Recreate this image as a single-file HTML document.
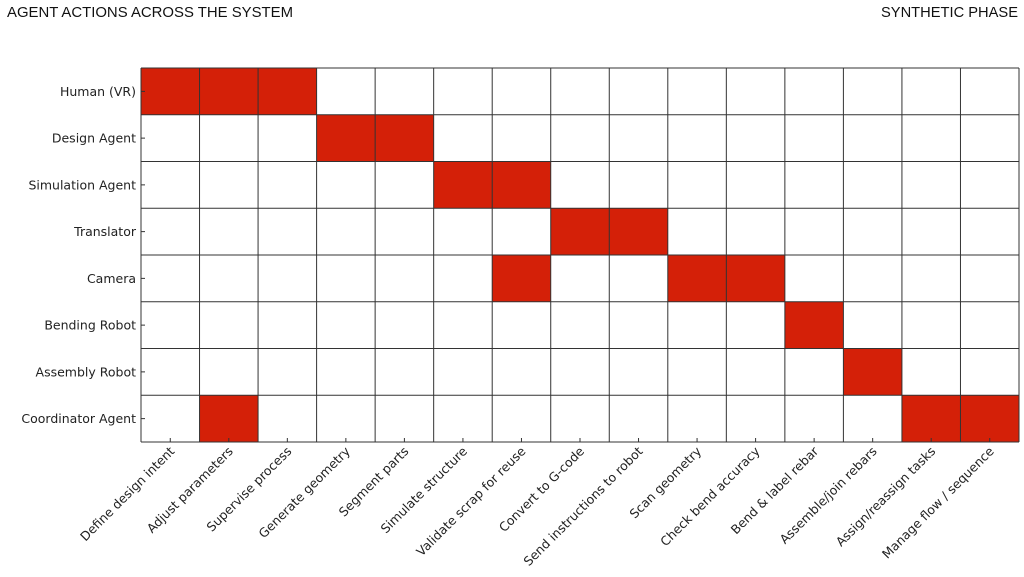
<!DOCTYPE html>
<html><head><meta charset="utf-8"><style>
html,body{margin:0;padding:0;background:#fff;}
svg{display:block;}
</style></head><body>
<svg id="chart" width="1024" height="577" viewBox="0 0 1024 577" xmlns="http://www.w3.org/2000/svg">
<text x="7" y="17" font-family="Liberation Sans, sans-serif" font-size="15" font-weight="500" fill="#111" textLength="286" lengthAdjust="spacingAndGlyphs">AGENT ACTIONS ACROSS THE SYSTEM</text>
<text x="1018" y="17" text-anchor="end" font-family="Liberation Sans, sans-serif" font-size="15" font-weight="500" fill="#111" textLength="137" lengthAdjust="spacingAndGlyphs">SYNTHETIC PHASE</text>
<g id="plot"></g>
</svg>
<script>
const agents = ["Human (VR)","Design Agent","Simulation Agent","Translator","Camera","Bending Robot","Assembly Robot","Coordinator Agent"];
const tasks = ["Define design intent","Adjust parameters","Supervise process","Generate geometry","Segment parts","Simulate structure","Validate scrap for reuse","Convert to G-code","Send instructions to robot","Scan geometry","Check bend accuracy","Bend & label rebar","Assemble/join rebars","Assign/reassign tasks","Manage flow / sequence"];
// active cells: [agentIndex, taskIndex]
const active = [[0,0],[0,1],[0,2],[1,3],[1,4],[2,5],[2,6],[3,7],[3,8],[4,6],[4,9],[4,10],[5,11],[6,12],[7,1],[7,13],[7,14]];

const L=141,R=1019,T=68,B=442;
const cw=(R-L)/tasks.length, rh=(B-T)/agents.length;
const xPos=i=>L+i*cw, yPos=j=>T+j*rh;
const NS="http://www.w3.org/2000/svg";
const g=document.getElementById('plot');
function mk(tag,attrs){const e=document.createElementNS(NS,tag);for(const k in attrs)e.setAttribute(k,attrs[k]);g.appendChild(e);return e;}

active.forEach(([r,c])=>{
  const e=mk('rect',{x:xPos(c),y:yPos(r),width:cw,height:rh,fill:'#d42008'});
  
  
});
for(let i=0;i<=tasks.length;i++){
  const e=mk('line',{x1:xPos(i),x2:xPos(i),y1:T,y2:B,stroke:'#333','stroke-width':1});
  
  
}
for(let j=0;j<=agents.length;j++){
  const e=mk('line',{x1:L,x2:R,y1:yPos(j),y2:yPos(j),stroke:'#333','stroke-width':1});
  
  
}
agents.forEach((a,j)=>{
  const cy=yPos(j)+rh/2;
  const t=mk('line',{x1:L,x2:L+4,y1:cy,y2:cy,stroke:'#333'});
  
  
  const e=mk('text',{x:L-5,y:cy+4.5,'text-anchor':'end','font-family':'DejaVu Sans, sans-serif','font-size':12.5,fill:'#222'});
  e.textContent=a;
  
  
});
tasks.forEach((s,i)=>{
  const cx=xPos(i)+cw/2;
  const t=mk('line',{x1:cx,x2:cx,y1:B,y2:B-4,stroke:'#333'});
  
  
  const px=cx+5, py=B+10;
  const e=mk('text',{x:px,y:py,'text-anchor':'end','font-family':'DejaVu Sans, sans-serif','font-size':12.5,fill:'#222',transform:'rotate(-45 '+px+' '+py+')'});
  e.textContent=s;
  
  
});
</script>
</body></html>
